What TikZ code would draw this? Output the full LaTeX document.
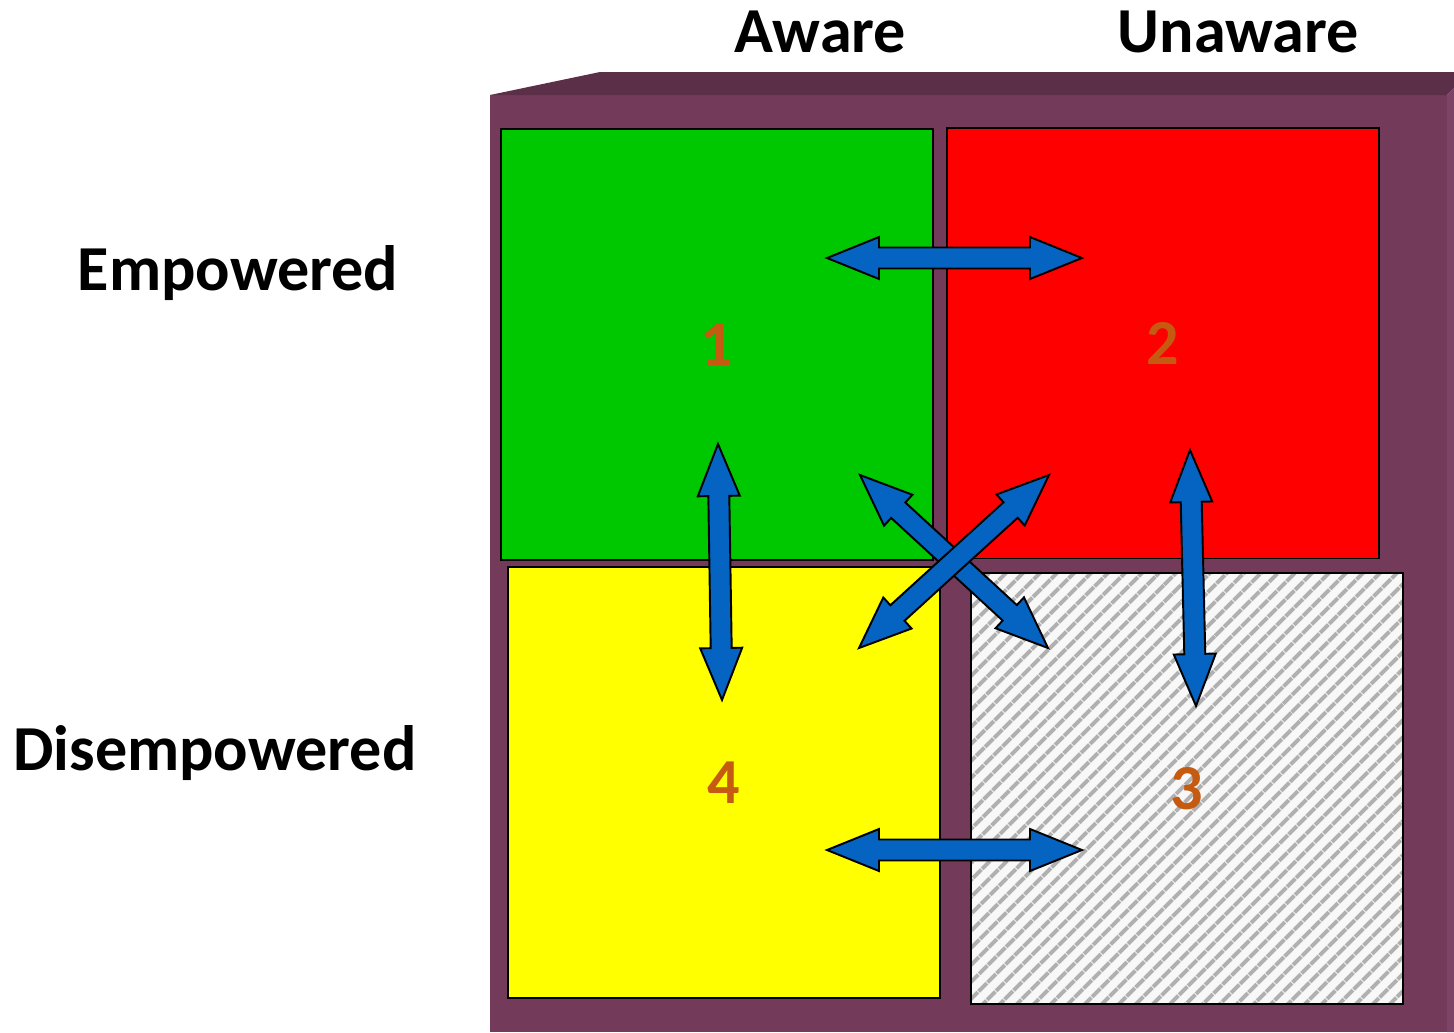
\documentclass[tikz,border=0pt]{standalone}
\usepackage{fontspec}
\setmainfont{Carlito}
\usetikzlibrary{calc,patterns.meta}
\definecolor{boardfront}{HTML}{733B59}
\definecolor{boardtop}{HTML}{5A2F47}
\definecolor{boardside}{HTML}{7E4468}
\definecolor{qgreen}{HTML}{00C800}
\definecolor{qred}{HTML}{FF0000}
\definecolor{qyellow}{HTML}{FFFF00}
\definecolor{hatchbg}{HTML}{F8F8F8}
\definecolor{hatchgray}{HTML}{B0B0B0}
\definecolor{arrowblue}{HTML}{0563C1}
\definecolor{numorange}{HTML}{C55A11}
\tikzset{
	quadrant/.style={draw=black,line width=1.1pt,minimum width=8.64cm,minimum height=8.62cm,inner sep=0pt,outer sep=0pt,font=\fontsize{36.5}{44}\selectfont\bfseries,text=numorange},
	blockarr/.style={fill=arrowblue,draw=black,line width=1.1pt,line join=miter},
	heading/.style={font=\fontsize{36.5}{44}\selectfont\bfseries,anchor=base,inner sep=0pt}
}

\begin{document}
\begin{tikzpicture}[x=0.02cm,y=-0.02cm]
\useasboundingbox (0,0) rectangle (1454,1032);
% board
\fill[boardfront] (490,95) rectangle (1447,1032);
\fill[boardtop] (490,95) -- (600,72) -- (1454,72) -- (1454,88) -- (1447,95) -- cycle;
\fill[boardside] (1447,95) -- (1454,88) -- (1454,1032) -- (1447,1032) -- cycle;
% quadrants
\node[quadrant,fill=qgreen] (q1) at (717,344.5) {1};
\node[quadrant,fill=qred] (q2) at (1163,343) {2};
\node[quadrant,fill=qyellow] (q4) at (724,782.5) {4};
\node[quadrant,pattern={Lines[angle=45,distance=0.26cm,line width=0.09cm]},pattern color=hatchgray,preaction={fill=hatchbg}] (q3) at (1187,788.5) {3};
% headings
\draw node[heading] (aware) at (820,52) {Aware};
\draw node[heading] (unaware) at (1238,52) {Unaware};
\draw node[heading] (emp) at (238,290) {Empowered};
\draw node[heading] (disemp) at (215,770) {Disempowered};
% arrow tips
\coordinate (a12) at (827,258);
\coordinate (a21) at (1082,258);
\coordinate (a43) at (827,850);
\coordinate (a34) at (1082,850);
\coordinate (a14) at (718,444);
\coordinate (a41) at (722,700);
\coordinate (a23) at (1190,450);
\coordinate (a32) at (1196,706);
\coordinate (a13) at (860,475);
\coordinate (a31) at (1048,648);
\coordinate (a42) at (859,648);
\coordinate (a24) at (1049,475);
\foreach \a/\b in {a12/a21,a43/a34,a14/a41,a23/a32,a13/a31,a42/a24}
{
	\coordinate (p) at ($(\a)!1.04cm!(\b)$);
	\coordinate (q) at ($(\b)!1.04cm!(\a)$);
	\draw[blockarr] (\a) -- ($(p)!0.42cm!90:(\b)$) -- ($(p)!0.21cm!90:(\b)$)
		-- ($(q)!0.21cm!-90:(\a)$) -- ($(q)!0.42cm!-90:(\a)$) -- (\b)
		-- ($(q)!0.42cm!90:(\a)$) -- ($(q)!0.21cm!90:(\a)$)
		-- ($(p)!0.21cm!-90:(\b)$) -- ($(p)!0.42cm!-90:(\b)$) -- cycle;
}
\end{tikzpicture}
\end{document}
